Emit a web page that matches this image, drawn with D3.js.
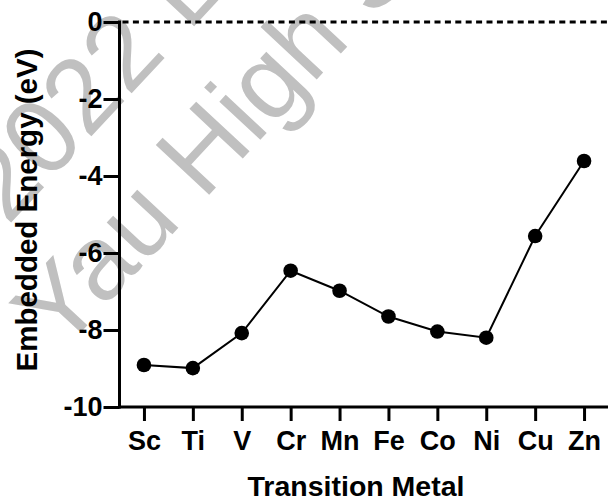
<!DOCTYPE html>
<html>
<head>
<meta charset="utf-8">
<script src="https://cdn.jsdelivr.net/npm/d3@7"></script>
<style>
  html, body { margin: 0; padding: 0; background: #fff; }
  svg { display: block; }
  text { font-family: "Liberation Sans", Arial, Helvetica, sans-serif; }
</style>
</head>
<body>
<svg id="chart" width="608" height="501"></svg>
<script>
// Embedded energy of single transition-metal atoms
const metals = ["Sc", "Ti", "V", "Cr", "Mn", "Fe", "Co", "Ni", "Cu", "Zn"];
const energies = [-8.91, -8.99, -8.08, -6.46, -6.98, -7.65, -8.04, -8.20, -5.56, -3.61];
const yTicks = [0, -2, -4, -6, -8, -10];
const watermarkLines = ["2022 E", "Yau High School"];

const W = 608, H = 501;
const plot = { left: 119.5, right: 608.5, top: 22, bottom: 407 };

const svg = d3.select("#chart");

// faint background watermark
const wm = svg.append("g")
  .attr("transform", "translate(36,275) rotate(-47)")
  .attr("fill", "#c0c0c0")
  .style("font-family", "'Liberation Sans', Arial, sans-serif")
  .style("font-size", "106px");
const wmPos = [[16, -54], [-42, 72]];
wm.selectAll("text")
  .data(watermarkLines)
  .join("text")
  .attr("x", (d, i) => wmPos[i][0])
  .attr("y", (d, i) => wmPos[i][1])
  .text(d => d);

const x = d3.scalePoint()
  .domain(metals)
  .range([plot.left, plot.right])
  .padding(0.5);

const y = d3.scaleLinear()
  .domain([-10, 0])
  .range([plot.bottom, plot.top]);

// zero reference line
svg.append("line")
  .attr("x1", plot.left + 3).attr("x2", W)
  .attr("y1", y(0)).attr("y2", y(0))
  .attr("stroke", "#000")
  .attr("stroke-width", 3)
  .attr("stroke-dasharray", "6,4.4");

// y axis
const yAxis = svg.append("g")
  .attr("transform", `translate(${plot.left},0)`)
  .call(d3.axisLeft(y).tickValues(yTicks).tickFormat(d => String(d)).tickSize(16).tickPadding(1));
yAxis.select(".domain").attr("d", `M0,${plot.top - 1.5}V${plot.bottom + 1.5}`);

// x axis
const xAxis = svg.append("g")
  .attr("transform", `translate(0,${plot.bottom})`)
  .call(d3.axisBottom(x).tickSize(14).tickPadding(10));
xAxis.select(".domain").attr("d", `M${plot.left - 1.5},0H${W}`);

svg.selectAll(".domain, .tick line")
  .attr("stroke", "#000")
  .attr("stroke-width", 3);
svg.selectAll(".tick text")
  .attr("fill", "#000")
  .style("font-family", "'Liberation Sans', Arial, sans-serif")
  .style("font-weight", "bold")
  .style("font-size", "27px");

// axis titles
svg.append("text")
  .attr("x", 356).attr("y", 496)
  .attr("text-anchor", "middle")
  .style("font-weight", "bold")
  .style("font-size", "28.5px")
  .text("Transition Metal");

svg.append("text")
  .attr("transform", `translate(37,210) rotate(-90)`)
  .attr("text-anchor", "middle")
  .style("font-weight", "bold")
  .style("font-size", "29.5px")
  .text("Embedded Energy (eV)");

// connecting line and markers
const line = d3.line()
  .x((d, i) => x(metals[i]))
  .y(d => y(d));

svg.append("path")
  .datum(energies)
  .attr("d", line)
  .attr("fill", "none")
  .attr("stroke", "#000")
  .attr("stroke-width", 2);

svg.selectAll("circle.pt")
  .data(energies)
  .join("circle")
  .attr("class", "pt")
  .attr("cx", (d, i) => x(metals[i]))
  .attr("cy", d => y(d))
  .attr("r", 7.3)
  .attr("fill", "#000");
</script>
</body>
</html>
